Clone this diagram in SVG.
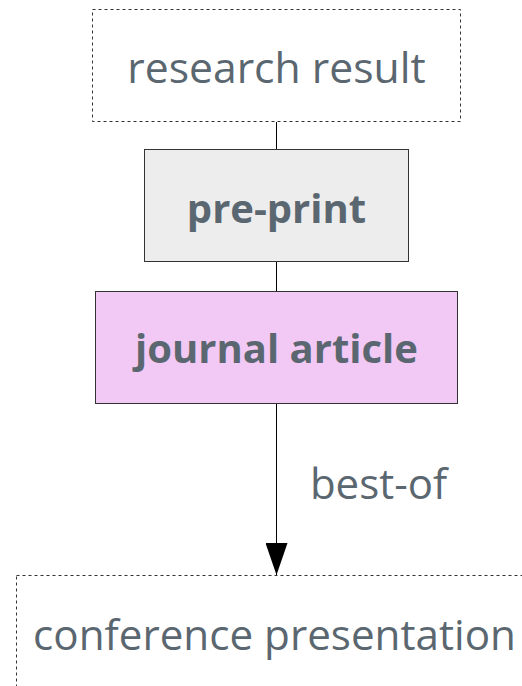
<svg xmlns="http://www.w3.org/2000/svg" width="522" height="686" viewBox="0 0 522 686">
<style>
.lbl{font-family:"Open Sans","Noto Sans","DejaVu Sans",sans-serif;fill:#5b6770;text-anchor:middle}
.dash{fill:#ffffff;stroke:#333333;stroke-width:1;stroke-dasharray:3,3}
.box{stroke:#333333;stroke-width:1}
.edge{stroke:#000000;stroke-width:1;fill:none}
</style>
<defs>
<marker id="arr" markerWidth="32" markerHeight="22" refX="32" refY="11" orient="auto" markerUnits="userSpaceOnUse" viewBox="0 0 32 22">
<path d="M0,0 L32,11 L0,22 Z" fill="#000000"/>
</marker>
</defs>
<rect width="522" height="686" fill="#ffffff"/>
<g id="connectors">
<line class="edge" x1="276.5" y1="122" x2="276.5" y2="149"/>
<line class="edge" x1="276.5" y1="262" x2="276.5" y2="291"/>
<path class="edge" d="M276.5,404 L276.5,575" marker-end="url(#arr)"/>
<text class="lbl" x="378.5" y="499" font-size="42">best-of</text>
</g>
<g id="research-result">
<rect class="dash" x="92.5" y="9.5" width="368" height="112"/>
<text class="lbl" x="276.5" y="83" font-size="42.7">research result</text>
</g>
<g id="pre-print">
<rect class="box" x="144.5" y="149.5" width="264" height="112" fill="#ededed"/>
<text class="lbl" x="276.5" y="223" font-size="40" font-weight="bold">pre-print</text>
</g>
<g id="journal-article">
<rect class="box" x="95.5" y="291.5" width="362" height="112" fill="#f2c9f5"/>
<text class="lbl" x="276.5" y="363" font-size="40" font-weight="bold">journal article</text>
</g>
<g id="conference-presentation">
<rect class="dash" x="16.5" y="575.5" width="522" height="140"/>
<text class="lbl" x="274.5" y="650" font-size="42.2">conference presentation</text>
</g>
</svg>
